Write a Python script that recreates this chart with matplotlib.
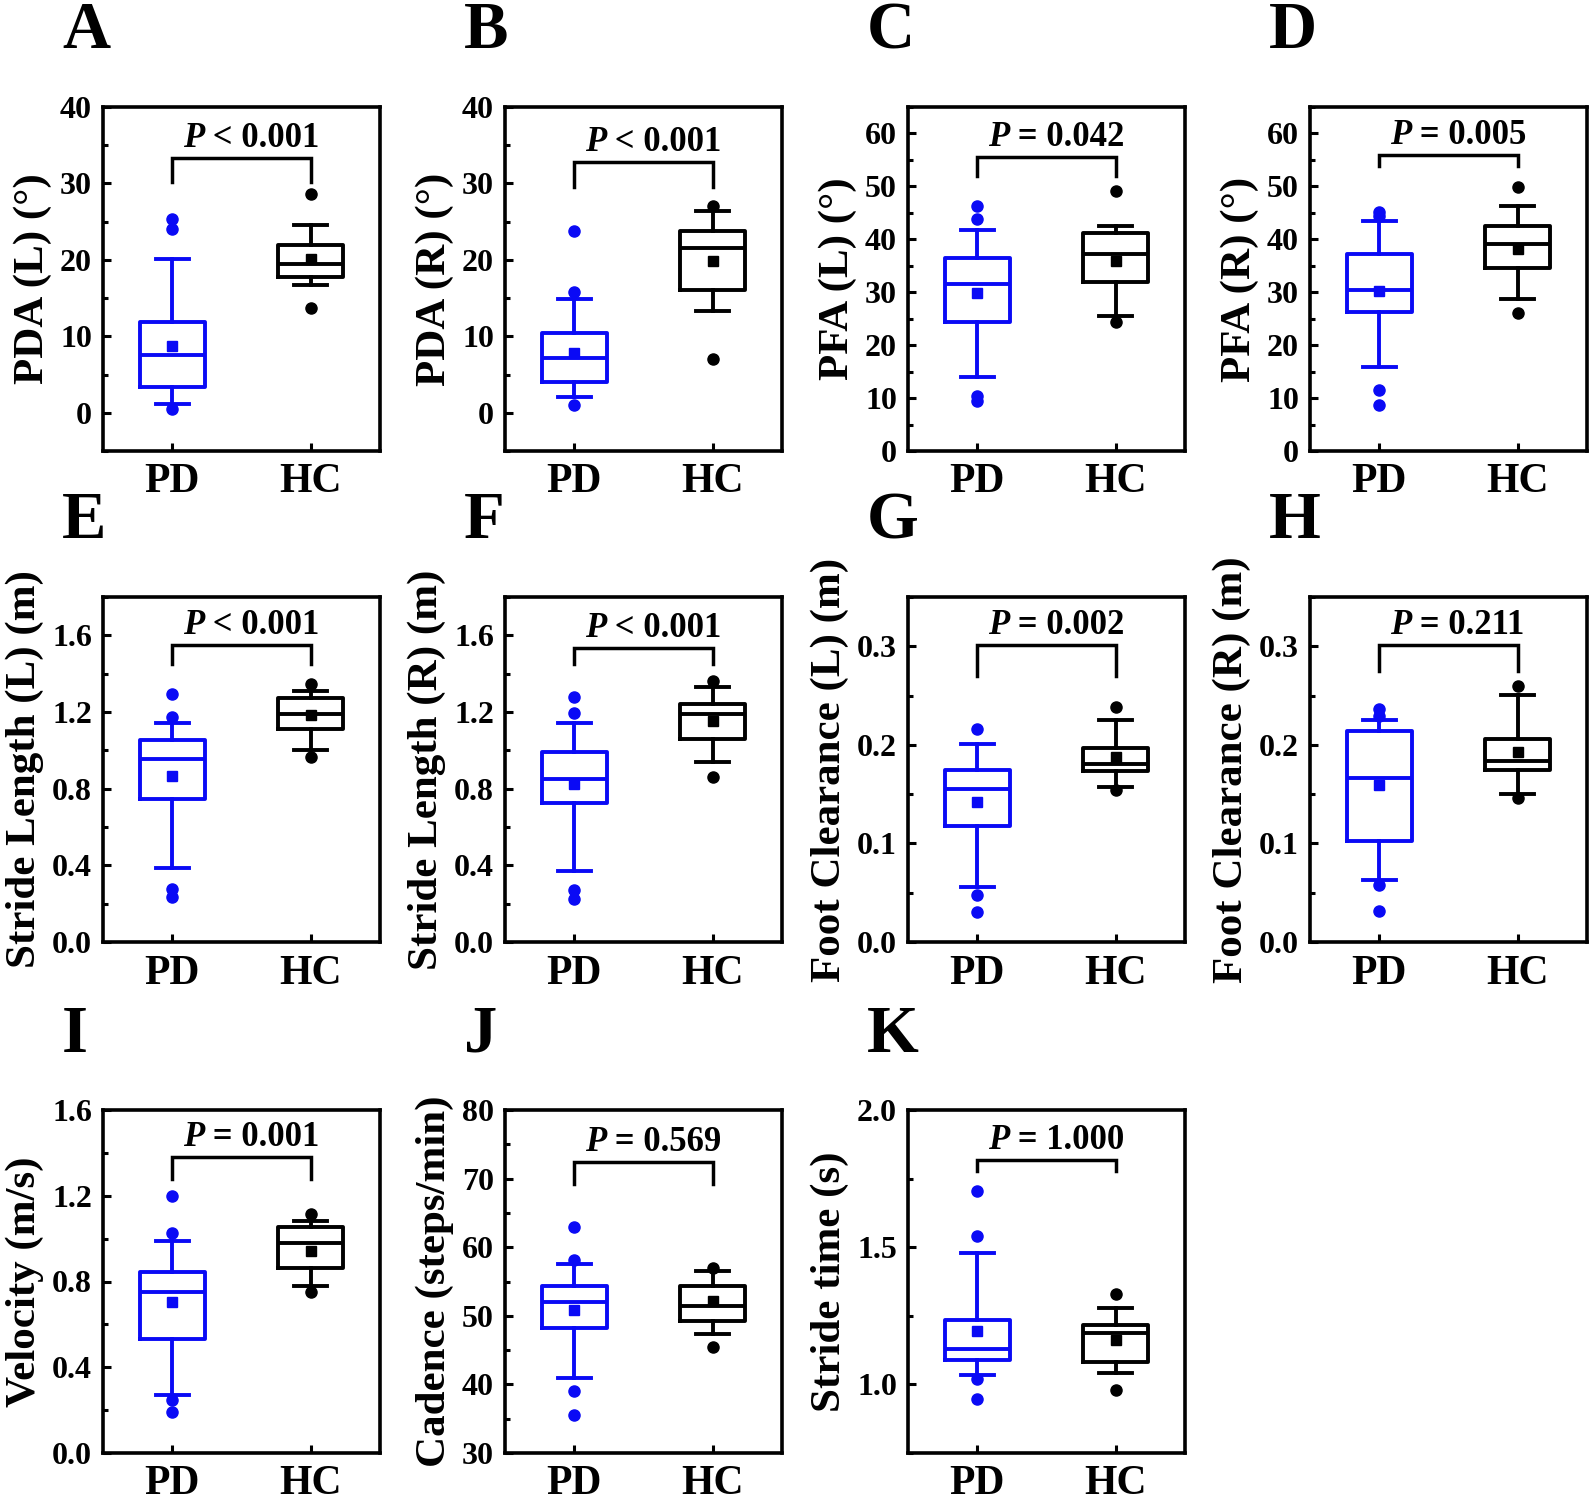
import matplotlib
matplotlib.use("Agg")
import matplotlib.pyplot as plt
from matplotlib.ticker import MultipleLocator, FormatStrFormatter

plt.rcParams['font.family'] = ['Liberation Serif', 'DejaVu Serif']
plt.rcParams['font.weight'] = 'bold'

# ---------------- data ----------------
groups = ["PD", "HC"]
panel_letters = ["A", "B", "C", "D", "E", "F", "G", "H", "I", "J", "K"]
ylabels = ["PDA (L) (°)", "PDA (R) (°)", "PFA (L) (°)", "PFA (R) (°)",
           "Stride Length (L) (m)", "Stride Length (R) (m)",
           "Foot Clearance (L) (m)", "Foot Clearance (R) (m)",
           "Velocity (m/s)", "Cadence (steps/min)", "Stride time (s)"]
p_texts = ["< 0.001", "< 0.001", "= 0.042", "= 0.005",
           "< 0.001", "< 0.001", "= 0.002", "= 0.211",
           "= 0.001", "= 0.569", "= 1.000"]

pd_q1 = [3.35, 4.0, 24.4, 26.2, 0.746, 0.727, 0.118, 0.1025, 0.533, 48.2, 1.090]
pd_med = [7.5, 7.2, 31.5, 30.5, 0.953, 0.852, 0.155, 0.166, 0.750, 52.0, 1.130]
pd_q3 = [11.9, 10.5, 36.5, 37.3, 1.052, 0.991, 0.174, 0.214, 0.842, 54.3, 1.235]
pd_whislo = [1.1, 2.0, 13.9, 15.9, 0.386, 0.369, 0.056, 0.063, 0.269, 40.9, 1.034]
pd_whishi = [20.1, 14.9, 41.8, 43.5, 1.143, 1.144, 0.2005, 0.2256, 0.990, 57.5, 1.480]
pd_mean = [8.8, 7.8, 29.8, 30.2, 0.864, 0.826, 0.142, 0.159, 0.704, 50.9, 1.193]
pd_fliers = [[25.4, 24.0, 0.43], [23.8, 15.8, 1.0], [46.3, 43.9, 10.4, 9.5],
             [45.1, 44.4, 11.5, 8.7], [1.296, 1.174, 0.278, 0.235],
             [1.278, 1.197, 0.27, 0.226], [0.216, 0.048, 0.030],
             [0.236, 0.229, 0.058, 0.031], [1.201, 1.028, 0.249, 0.190],
             [63.0, 58.2, 39.1, 35.6], [1.705, 1.540, 1.018, 0.948]]

hc_q1 = [17.7, 16.1, 32.0, 34.5, 1.110, 1.057, 0.173, 0.174, 0.862, 49.3, 1.082]
hc_med = [19.5, 21.6, 37.2, 39.2, 1.191, 1.188, 0.181, 0.184, 0.979, 51.5, 1.187]
hc_q3 = [22.0, 23.8, 41.1, 42.5, 1.273, 1.243, 0.197, 0.206, 1.052, 54.3, 1.217]
hc_whislo = [16.65, 13.3, 25.6, 28.8, 1.0, 0.939, 0.157, 0.150, 0.777, 47.3, 1.040]
hc_whishi = [24.5, 26.4, 42.5, 46.2, 1.310, 1.330, 0.2256, 0.251, 1.080, 56.6, 1.280]
hc_mean = [20.1, 19.9, 35.9, 38.2, 1.183, 1.151, 0.188, 0.193, 0.940, 52.1, 1.163]
hc_fliers = [[28.6, 13.7], [27.0, 7.1], [49.1, 24.3], [49.9, 26.0],
             [1.344, 0.965], [1.360, 0.861], [0.238, 0.154], [0.260, 0.146],
             [1.115, 0.750], [57.0, 45.5], [1.329, 0.978]]

# bracket heights (bar, leg ends)
bracket_bar = [33.3, 32.8, 55.6, 56.0, 1.551, 1.534, 0.301, 0.301, 1.382, 72.4, 1.819]
bracket_leg = [30.2, 29.6, 51.9, 53.8, 1.452, 1.453, 0.270, 0.275, 1.277, 69.2, 1.779]

# axis settings
ylims = [(-5, 40), (-5, 40), (0, 65), (0, 65), (0, 1.8), (0, 1.8),
         (0, 0.35), (0, 0.35), (0, 1.6), (30, 80), (0.75, 2.0)]
ymajor = [10, 10, 10, 10, 0.4, 0.4, 0.1, 0.1, 0.4, 10, 0.5]
yfmt = ['%d', '%d', '%d', '%d', '%.1f', '%.1f', '%.1f', '%.1f', '%.1f', '%d', '%.1f']

# ---------------- layout ----------------
W, H = 1595, 1504
fig = plt.figure(figsize=(W / 100, H / 100), dpi=100)
col_left = [103, 505, 908, 1310]
ax_w = 277
row_top = [107, 597, 1110]
row_bot = [451, 942, 1453]

BLUE = '#0a0af5'
BLACK = 'black'
LW = 2.8
PFS = 25

for i in range(11):
    r, c = divmod(i, 4)
    l = col_left[c]
    t = row_top[r]
    b = row_bot[r]
    ax = fig.add_axes([l / W, 1 - b / H, ax_w / W, (b - t) / H])

    stats = [
        dict(q1=pd_q1[i], med=pd_med[i], q3=pd_q3[i], whislo=pd_whislo[i],
             whishi=pd_whishi[i], mean=pd_mean[i], fliers=pd_fliers[i]),
        dict(q1=hc_q1[i], med=hc_med[i], q3=hc_q3[i], whislo=hc_whislo[i],
             whishi=hc_whishi[i], mean=hc_mean[i], fliers=hc_fliers[i]),
    ]
    for k, color in enumerate([BLUE, BLACK]):
        ax.bxp([stats[k]], positions=[k + 1], widths=0.47, capwidths=0.24,
               showmeans=True, manage_ticks=False,
               boxprops=dict(color=color, linewidth=LW),
               whiskerprops=dict(color=color, linewidth=LW),
               capprops=dict(color=color, linewidth=LW),
               medianprops=dict(color=color, linewidth=LW),
               meanprops=dict(marker='s', markerfacecolor=color,
                              markeredgecolor=color, markersize=7),
               flierprops=dict(marker='o', markerfacecolor=color,
                               markeredgecolor=color, markersize=8))

    ax.set_xlim(0.5, 2.5)
    ax.set_ylim(*ylims[i])
    ax.set_xticks([1, 2])
    ax.set_xticklabels(groups)
    ax.yaxis.set_major_locator(MultipleLocator(ymajor[i]))
    ax.yaxis.set_minor_locator(MultipleLocator(ymajor[i] / 2))
    ax.yaxis.set_major_formatter(FormatStrFormatter(yfmt[i]))
    ax.tick_params(axis='y', which='major', direction='in', length=6, width=2.2,
                   labelsize=23, pad=8)
    ax.tick_params(axis='y', which='minor', direction='in', length=3.5, width=2.2)
    ax.tick_params(axis='x', which='major', direction='in', length=6, width=2.2,
                   labelsize=30, pad=9)
    for lab in ax.get_xticklabels() + ax.get_yticklabels():
        lab.set_fontweight('bold')
    for sp in ax.spines.values():
        sp.set_linewidth(2.6)
    ax.set_ylabel(ylabels[i], fontsize=31, fontweight='bold', labelpad=6)

    # significance bracket
    ax.plot([1, 1, 2, 2], [bracket_leg[i], bracket_bar[i], bracket_bar[i], bracket_leg[i]],
            color='black', linewidth=2.5, solid_joinstyle='miter')
    split_dx = -30
    ax.annotate("P", xy=(1.53, bracket_bar[i]), xytext=(split_dx, 8),
                textcoords='offset points', ha='right', va='baseline',
                fontsize=PFS, fontweight='bold', fontstyle='italic')
    ax.annotate(" " + p_texts[i], xy=(1.53, bracket_bar[i]), xytext=(split_dx, 8),
                textcoords='offset points', ha='left', va='baseline',
                fontsize=PFS, fontweight='bold')

    fig.text((l - 41) / W, 1 - (t - 75) / H, panel_letters[i], fontsize=48,
             fontweight='bold', ha='left', va='center')

fig.savefig('out.png', dpi=100, facecolor='white')
